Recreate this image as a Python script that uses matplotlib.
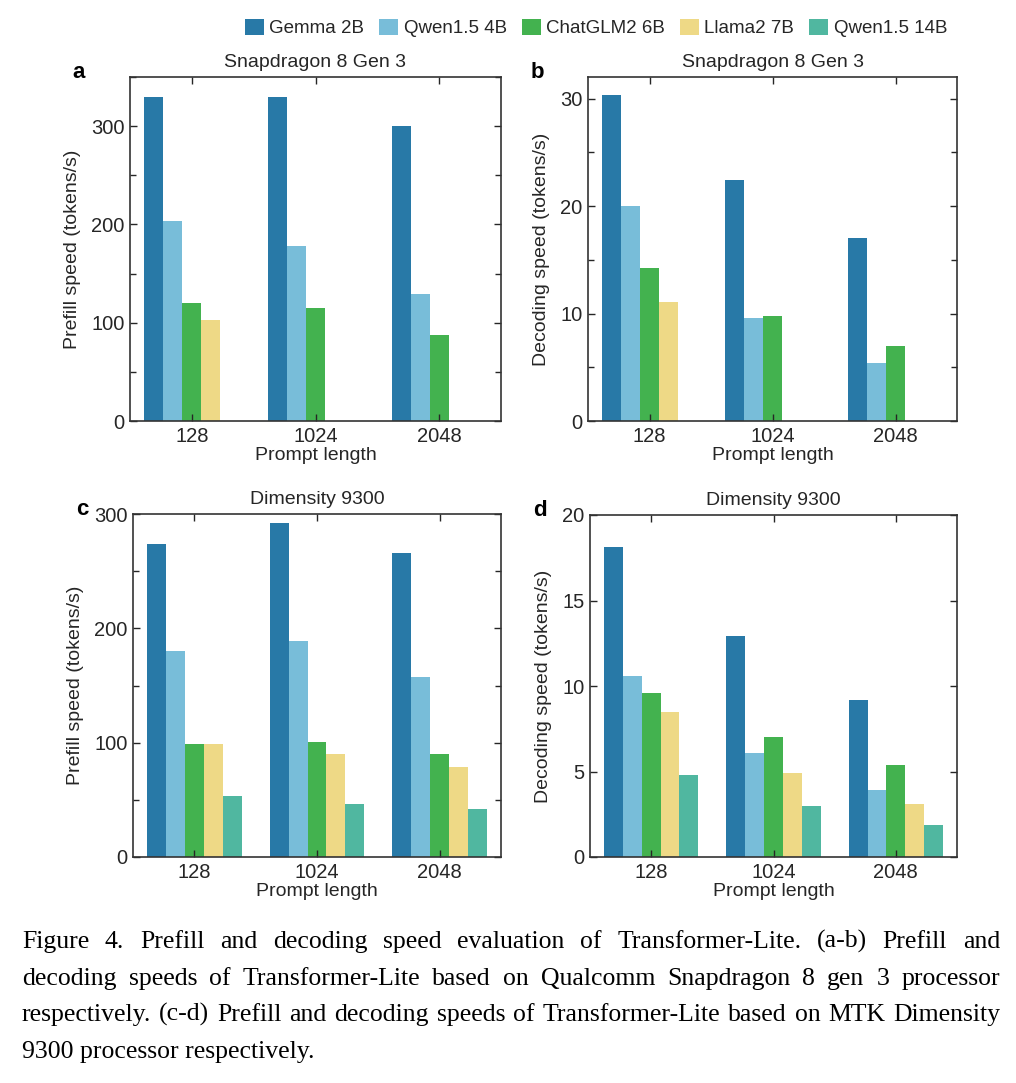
import numpy as np
import matplotlib
matplotlib.use('Agg')
import matplotlib.pyplot as plt
from matplotlib.patches import Patch
from matplotlib.ticker import MultipleLocator

plt.rcParams['font.family'] = ['Liberation Sans', 'DejaVu Sans']
plt.rcParams['text.color'] = '#262626'
plt.rcParams['axes.labelcolor'] = '#262626'
plt.rcParams['xtick.color'] = '#262626'
plt.rcParams['ytick.color'] = '#262626'

####### data #######

prompt_lengths = ['128', '1024', '2048']
models = ['Gemma 2B', 'Qwen1.5 4B', 'ChatGLM2 6B', 'Llama2 7B', 'Qwen1.5 14B']
colors = ['#2879a7', '#78bdd9', '#43b24f', '#eed986', '#50b7a0']

# Snapdragon 8 Gen 3 (0 = not measured)
sd_prefill_gemma = [330, 330, 300]
sd_prefill_qwen4 = [203, 178, 129]
sd_prefill_glm = [120, 115, 87]
sd_prefill_llama = [103, 0, 0]
sd_prefill_qwen14 = [0, 0, 0]

sd_decode_gemma = [30.3, 22.4, 17.0]
sd_decode_qwen4 = [20.0, 9.55, 5.4]
sd_decode_glm = [14.2, 9.8, 7.0]
sd_decode_llama = [11.05, 0, 0]
sd_decode_qwen14 = [0, 0, 0]

# Dimensity 9300
dm_prefill_gemma = [274, 292, 266]
dm_prefill_qwen4 = [180, 189, 157]
dm_prefill_glm = [99, 101, 90]
dm_prefill_llama = [98.5, 90.5, 78.5]
dm_prefill_qwen14 = [53, 46, 42]

dm_decode_gemma = [18.1, 12.9, 9.2]
dm_decode_qwen4 = [10.6, 6.1, 3.9]
dm_decode_glm = [9.6, 7.0, 5.4]
dm_decode_llama = [8.5, 4.9, 3.1]
dm_decode_qwen14 = [4.8, 3.0, 1.9]

caption_lines = [
    'Figure 4. Prefill and decoding speed evaluation of Transformer-Lite. (a-b) Prefill and',
    'decoding speeds of Transformer-Lite based on Qualcomm Snapdragon 8 gen 3 processor',
    'respectively. (c-d) Prefill and decoding speeds of Transformer-Lite based on MTK Dimensity',
    '9300 processor respectively.',
]

W, H = 1016, 1083
fig = plt.figure(figsize=(W / 100, H / 100), dpi=100)


def box(l, t, r, b):
    return [l / W, 1 - b / H, (r - l) / W, (b - t) / H]


panels = [
    ('a', box(130, 77, 501, 421), 'Snapdragon 8 Gen 3', 'Prefill speed (tokens/s)',
     [sd_prefill_gemma, sd_prefill_qwen4, sd_prefill_glm, sd_prefill_llama, sd_prefill_qwen14],
     350, 100, 50),
    ('b', box(588, 77, 957, 421), 'Snapdragon 8 Gen 3', 'Decoding speed (tokens/s)',
     [sd_decode_gemma, sd_decode_qwen4, sd_decode_glm, sd_decode_llama, sd_decode_qwen14],
     32, 10, 5),
    ('c', box(133, 514, 501, 857), 'Dimensity 9300', 'Prefill speed (tokens/s)',
     [dm_prefill_gemma, dm_prefill_qwen4, dm_prefill_glm, dm_prefill_llama, dm_prefill_qwen14],
     300, 100, 50),
    ('d', box(590, 515, 957, 857), 'Dimensity 9300', 'Decoding speed (tokens/s)',
     [dm_decode_gemma, dm_decode_qwen4, dm_decode_glm, dm_decode_llama, dm_decode_qwen14],
     20, 5, 5),
]

x = np.arange(1, len(prompt_lengths) + 1)
bw = 0.154
fs = 14

for letter, pos, title, ylabel, series, ymax, major, minor in panels:
    ax = fig.add_axes(pos)
    for i, vals in enumerate(series):
        ax.bar(x + (i - 2) * bw, vals, width=bw, color=colors[i], linewidth=0)
    ax.set_xlim(0.5, 3.5)
    ax.set_ylim(0, ymax)
    ax.set_xticks(x)
    ax.set_xticklabels(prompt_lengths)
    ax.yaxis.set_major_locator(MultipleLocator(major))
    ax.yaxis.set_minor_locator(MultipleLocator(minor))
    ax.tick_params(which='both', direction='in', top=True, right=True, labelsize=fs + 0.5, pad=4)
    ax.tick_params(which='major', length=5, width=1)
    ax.tick_params(which='minor', length=4, width=1)
    ax.tick_params(axis='x', which='minor', top=False, bottom=False)
    for s in ax.spines.values():
        s.set_linewidth(1.2)
        s.set_color('#333333')
    ax.set_title(title, fontsize=fs, pad=7)
    ax.set_xlabel('Prompt length', fontsize=fs, labelpad=1)
    ax.set_ylabel(ylabel, fontsize=fs, labelpad=7)
    ax.text(-0.155, 1.0 - 1.5 / 344, letter, transform=ax.transAxes, fontsize=fs + 2,
            fontweight='bold', ha='left', va='baseline', color='black')

handles = [Patch(facecolor=c, edgecolor='none') for c in colors]
fig.legend(handles, models, loc='center', bbox_to_anchor=(596 / W, 1 - 28 / H),
           ncol=5, frameon=False, fontsize=13.5, handlelength=1.0, handleheight=1.0,
           handletextpad=0.3, columnspacing=0.8)

# caption, justified like the page text
renderer = fig.canvas.get_renderer()
left, right = 22, 1000
baselines = [948, 985, 1021, 1058]
cap_fs = 18.5
for k, line in enumerate(caption_lines):
    words = line.split(' ')
    y = 1 - baselines[k] / H
    if k == len(caption_lines) - 1:
        fig.text(left / W, y, line, fontsize=cap_fs, family='Liberation Serif',
                 color='black', va='baseline')
        continue
    texts = [fig.text(0, y, w_, fontsize=cap_fs, family='Liberation Serif',
                      color='black', va='baseline') for w_ in words]
    widths = [t.get_window_extent(renderer).width for t in texts]
    gap = (right - left - sum(widths)) / (len(words) - 1)
    xpos = left
    for t, wd in zip(texts, widths):
        t.set_x(xpos / W)
        xpos += wd + gap

fig.savefig('out.png', dpi=100)
